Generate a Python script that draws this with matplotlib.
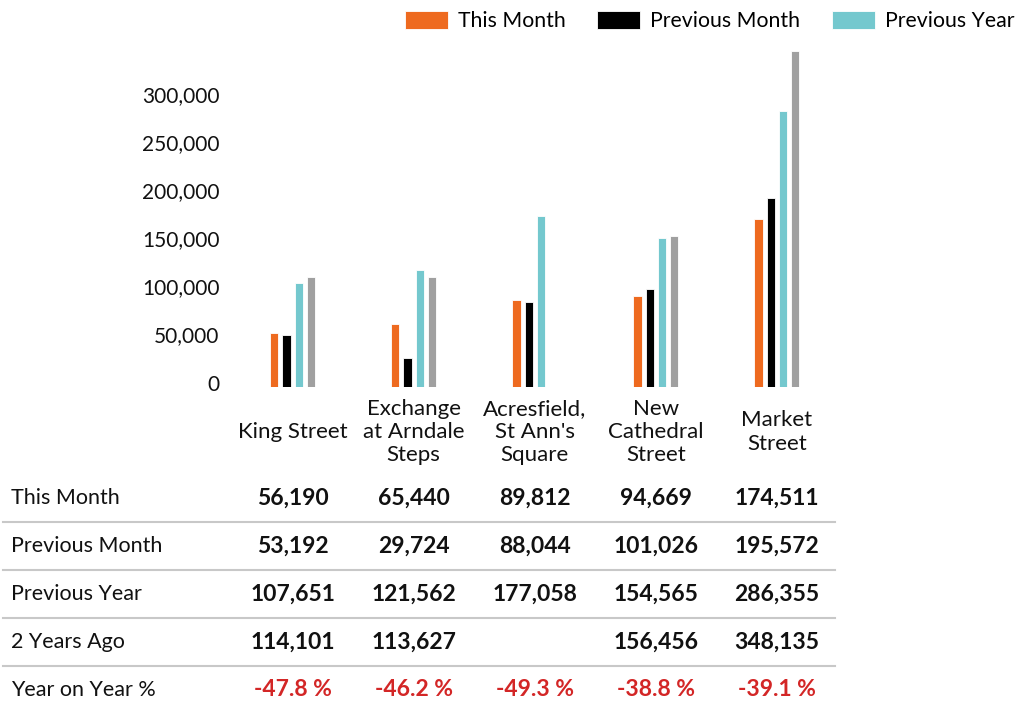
import numpy as np
import matplotlib
matplotlib.use("Agg")
import matplotlib.pyplot as plt
from matplotlib.lines import Line2D
from matplotlib.transforms import blended_transform_factory, ScaledTranslation

plt.rcParams['font.family'] = ['Lato', 'DejaVu Sans']

# data
locations = ["King Street", "Exchange\nat Arndale\nSteps", "Acresfield,\nSt Ann's\nSquare",
             "New\nCathedral\nStreet", "Market\nStreet"]
this_month = [56190, 65440, 89812, 94669, 174511]
previous_month = [53192, 29724, 88044, 101026, 195572]
previous_year = [107651, 121562, 177058, 154565, 286355]
two_years_ago = [114101, 113627, np.nan, 156456, 348135]
year_on_year = [-47.8, -46.2, -49.3, -38.8, -39.1]
y_ticks = [0, 50000, 100000, 150000, 200000, 250000, 300000]

series = [("This Month", this_month, "#EE6A1F"),
          ("Previous Month", previous_month, "#000000"),
          ("Previous Year", previous_year, "#74C8CE"),
          ("2 Years Ago", two_years_ago, "#A0A0A0")]

W, H = 1025, 713
fig = plt.figure(figsize=(W / 100, H / 100), dpi=100)
ax = fig.add_axes([232 / W, 1 - 386.7 / H, (837.5 - 232) / W, (386.7 - 40) / H])

x = np.arange(len(locations))
step, width = 0.101, 0.068
handles = []
for i, (name, vals, color) in enumerate(series):
    b = ax.bar(x + (i - 1.5) * step, vals, width, color=color, edgecolor="white", linewidth=0.6,
               label=name)
    handles.append(b)

ax.set_xlim(-0.5, len(locations) - 0.5)
ax.set_ylim(0, 360000)
ax.set_yticks(y_ticks)
ax.set_yticklabels([f"{v:,}" for v in y_ticks], fontsize=15, color="#111111")
ax.set_xticks([])
ax.tick_params(axis="y", length=0, pad=9)
for lab in ax.get_yticklabels():
    lab.set_transform(lab.get_transform() + ScaledTranslation(0, 4 / 100, fig.dpi_scale_trans))
for s in ax.spines.values():
    s.set_visible(False)

# category labels under the bars
trans = blended_transform_factory(ax.transData, fig.transFigure)
for xi, name in zip(x, locations):
    ax.text(xi, 1 - 432 / H, name, transform=trans, ha="center", va="center",
            fontsize=16, linespacing=1.2, color="#111111")

# legend (first three series only)
fig.legend(handles[:3], [s[0] for s in series[:3]], loc="upper right",
           bbox_to_anchor=(1.0 + 2 / W, 1.0 + 2 / H), ncol=3, frameon=False, fontsize=15.3,
           handlelength=2.0, handleheight=0.95, handletextpad=0.48, columnspacing=1.5,
           borderpad=0.1)

# table below
row_y = [498, 546, 594, 642, 690]
line_y = [521.7, 569.5, 617.7, 666]
rows = [(n, v) for n, v, _ in series]
for (name, vals), ry in zip(rows, row_y):
    fig.text(11 / W, 1 - ry / H, name, ha="left", va="center", fontsize=15.5, color="#111111")
    for xi, v in zip(x, vals):
        if np.isnan(v):
            continue
        ax.text(xi, 1 - ry / H, f"{int(v):,}", transform=trans, ha="center", va="center",
                fontsize=16.5, fontweight="bold", color="#111111")
fig.text(11 / W, 1 - row_y[-1] / H, "Year on Year %", ha="left", va="center", fontsize=15.5,
         color="#111111")
for xi, v in zip(x, year_on_year):
    ax.text(xi, 1 - row_y[-1] / H, f"{v:.1f} %", transform=trans, ha="center", va="center",
            fontsize=16.5, fontweight="bold", color="#D32626")

for ly in line_y:
    fig.add_artist(Line2D([3 / W, 835 / W], [1 - ly / H, 1 - ly / H], transform=fig.transFigure,
                          color="#C8C8C8", linewidth=1.5))

fig.savefig("out.png", dpi=100)
